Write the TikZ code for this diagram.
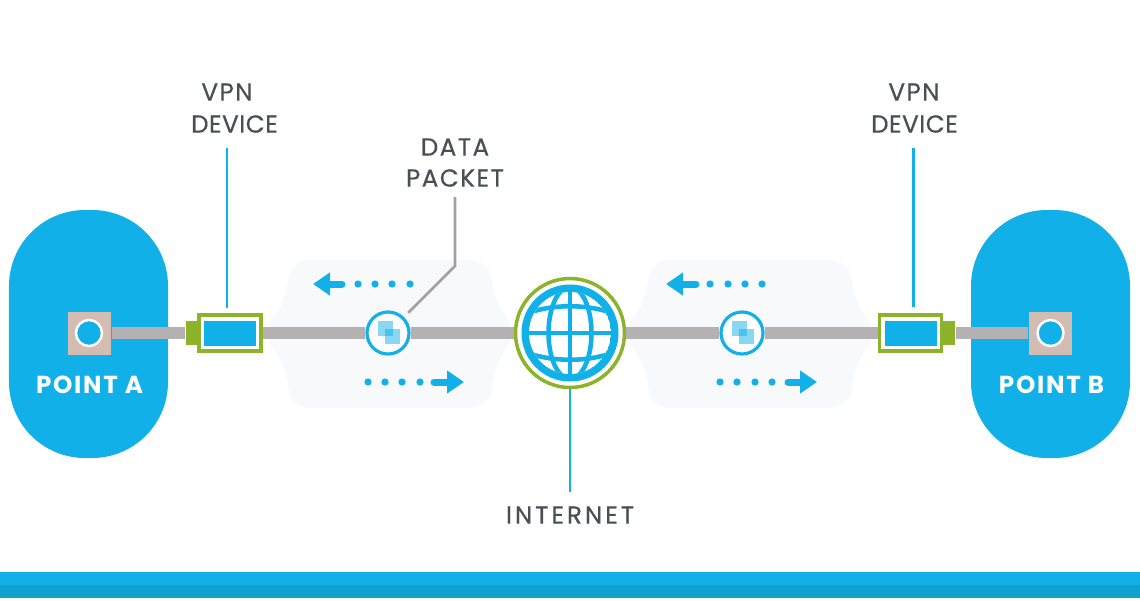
\documentclass[tikz,border=0pt]{standalone}
\usepackage{fontspec}
\setmainfont{Poppins}
\newfontfamily\labelfont[LetterSpace=6, FakeBold=0.5]{Poppins}
\newfontfamily\wideLabelfont[LetterSpace=12, FakeBold=0.5]{Poppins}
\newfontfamily\tightLabelfont[LetterSpace=2, FakeBold=0.5]{Poppins}
\newfontfamily\pointfont[LetterSpace=7]{Poppins}
\usetikzlibrary{arrows.meta, backgrounds}
\definecolor{cblue}{HTML}{12B0E8}
\definecolor{cband}{HTML}{10A2CC}
\definecolor{cgreen}{HTML}{8DB32B}
\definecolor{cpipe}{HTML}{B5B0B1}
\definecolor{cport}{HTML}{D3BDB3}
\definecolor{ctext}{HTML}{4A4F55}
\definecolor{ccloud}{HTML}{F8F9FB}
\tikzset{
  every picture/.style={y=-1cm, line width=0.6pt},
  lbl/.style={font=\labelfont\fontsize{7}{8}\selectfont, text=ctext, inner sep=0pt},
  lblwide/.style={lbl, font=\wideLabelfont\fontsize{7}{8}\selectfont},
  lbltight/.style={lbl, font=\tightLabelfont\fontsize{7}{8}\selectfont},
  pointlbl/.style={font=\pointfont\bfseries\fontsize{7}{8}\selectfont, text=white, inner sep=0pt},
  site/.style={fill=cblue, rounded corners=0.76cm, minimum width=1.59cm, minimum height=2.48cm, inner sep=0pt},
  port/.style={fill=cport, minimum size=0.43cm, inner sep=0pt},
  hole/.style={circle, draw=white, fill=cblue, line width=0.7pt, minimum size=0.26cm, inner sep=0pt},
  device/.style={draw=cgreen, fill=white, line width=1pt, minimum width=0.62cm, minimum height=0.36cm, inner sep=0pt},
  screen/.style={fill=cblue, minimum width=0.52cm, minimum height=0.25cm, inner sep=0pt},
  plug/.style={fill=cgreen, minimum width=0.12cm, minimum height=0.24cm, inner sep=0pt},
  packet/.style={circle, draw=cblue, fill=white, line width=0.9pt, minimum size=0.42cm, inner sep=0pt},
  pipe/.style={draw=cpipe, line width=0.12cm},
  lead/.style={draw=cblue, line width=0.85pt},
  leadgrey/.style={draw=cpipe!90!black, line width=0.75pt},
  flow/.style={draw=cblue, line width=0.07cm, line cap=round, -{Triangle[length=1.7mm, width=2.2mm]}},
  flowdot/.style={fill=cblue},
  chip/.style={fill=cblue, fill opacity=0.5},
  gridline/.style={draw=cblue, line width=1.3pt},
}
\begin{document}
\begin{tikzpicture}
  \useasboundingbox (0,0) rectangle (11.4,6);
  \newcommand{\cloudbg}[1]{%
    \fill[ccloud, rounded corners=0.22cm, shift={(#1,0)}]
      (2.88,2.60) -- (4.92,2.60) -- (4.92,3.00) -- (5.20,3.33) -- (4.92,3.66) -- (4.92,4.08)
      -- (2.88,4.08) -- (2.88,3.66) -- (2.60,3.33) -- (2.88,3.00) -- cycle;}

  % backdrop
  \cloudbg{0}
  \cloudbg{3.60}
  \fill[cblue] (0,5.72) rectangle (11.4,5.86);
  \fill[cband] (0,5.85) rectangle (11.4,5.98);

  % point a
  \node[site] (siteA) at (0.885,3.34) {};
  \node[port] (portA) at (0.89,3.33) {};
  \node[hole] (holeA) at (0.89,3.33) {};
  \node[pointlbl] (nameA) at (0.895,3.85) {POINT A};

  % point b
  \node[site] (siteB) at (10.505,3.34) {};
  \node[port] (portB) at (10.505,3.33) {};
  \node[hole] (holeB) at (10.505,3.33) {};
  \node[pointlbl] (nameB) at (10.515,3.85) {POINT B};

  % vpn devices
  \node[plug] (plugA) at (1.92,3.33) {};
  \node[device] (devA) at (2.30,3.33) {};
  \node[screen] (scrA) at (2.30,3.335) {};
  \node[plug] (plugB) at (9.49,3.33) {};
  \node[device] (devB) at (9.105,3.33) {};
  \node[screen] (scrB) at (9.105,3.335) {};

  % globe
  \node[circle, draw=cgreen, fill=white, line width=1pt, minimum size=1.09cm, inner sep=0pt] (globe) at (5.70,3.33) {};
  \fill[cblue] (globe.center) circle (0.485);
  \begin{scope}
    \clip (globe.center) circle (0.41);
    \fill[white] (globe.center) circle (0.41);
    \draw[gridline] (5.70,2.8) -- (5.70,3.8);
    \draw[gridline] (globe.center) ellipse (0.215 and 0.46);
    \draw[gridline] (5.1,3.33) -- (6.3,3.33);
    \draw[gridline] (5.2,3.16) .. controls (5.5,3.03) and (5.9,3.03) .. (6.2,3.16);
    \draw[gridline] (5.2,3.50) .. controls (5.5,3.63) and (5.9,3.63) .. (6.2,3.50);
  \end{scope}

  % data packets
  \node[packet] (pktA) at (3.88,3.33) {};
  \fill[chip] (3.78,3.21) rectangle (3.93,3.36);
  \fill[chip] (3.85,3.29) rectangle (4.00,3.44);
  \node[packet] (pktB) at (7.42,3.33) {};
  \fill[chip] (7.32,3.21) rectangle (7.47,3.36);
  \fill[chip] (7.39,3.29) rectangle (7.54,3.44);

  % pipes
  \draw[pipe] (portA) -- (plugA);
  \draw[pipe] (devA) -- (pktA);
  \draw[pipe] (pktA) -- (globe);
  \draw[pipe] (globe) -- (pktB);
  \draw[pipe] (pktB) -- (devB);
  \draw[pipe] (plugB) -- (portB);

  % flow arrows
  \coordinate (tailAT) at (3.42,2.84);
  \coordinate (tipAT) at (3.13,2.84);
  \coordinate (tailAB) at (4.34,3.82);
  \coordinate (tipAB) at (4.64,3.82);
  \coordinate (tailBT) at (6.96,2.84);
  \coordinate (tipBT) at (6.66,2.84);
  \coordinate (tailBB) at (7.88,3.82);
  \coordinate (tipBB) at (8.17,3.82);
  \draw[flow] (tailAT) -- (tipAT);
  \draw[flow] (tailAB) -- (tipAB);
  \draw[flow] (tailBT) -- (tipBT);
  \draw[flow] (tailBB) -- (tipBB);
  \foreach \dx in {3.58,3.75,3.92,4.10} \fill[flowdot] (\dx,2.84) circle (0.036);
  \foreach \dx in {3.68,3.85,4.02,4.20} \fill[flowdot] (\dx,3.82) circle (0.036);
  \foreach \dx in {7.10,7.28,7.45,7.62} \fill[flowdot] (\dx,2.84) circle (0.036);
  \foreach \dx in {7.20,7.37,7.55,7.72} \fill[flowdot] (\dx,3.82) circle (0.036);

  % labels
  \node[lbl] (vpnA) at (2.27,0.92) {VPN};
  \node[lbltight] (vpnAb) at (2.345,1.24) {DEVICE};
  \node[lbl] (vpnB) at (9.14,0.92) {VPN};
  \node[lbltight] (vpnBb) at (9.145,1.24) {DEVICE};
  \node[lbl] (dataA) at (4.55,1.47) {DATA};
  \node[lbl] (dataB) at (4.55,1.78) {PACKET};
  \node[lblwide] (inet) at (5.70,5.15) {INTERNET};

  % leaders
  \coordinate (vpnAend) at (2.27,1.48);
  \coordinate (vpnBend) at (9.135,1.48);
  \coordinate (dataTop) at (4.55,1.97);
  \coordinate (dataBend) at (4.55,2.66);
  \coordinate (inetEnd) at (5.69,4.92);
  \draw[lead, shorten >=0.05cm] (vpnAend) -- (devA.north -| vpnAend);
  \draw[lead, shorten >=0.06cm] (vpnBend) -- (devB.north -| vpnBend);
  \draw[lead] (globe.south) -- (inetEnd -| globe.south);
  \draw[leadgrey, shorten >=0.06cm] (dataTop) -- (dataBend) -- (pktA.north east);
\end{tikzpicture}
\end{document}
